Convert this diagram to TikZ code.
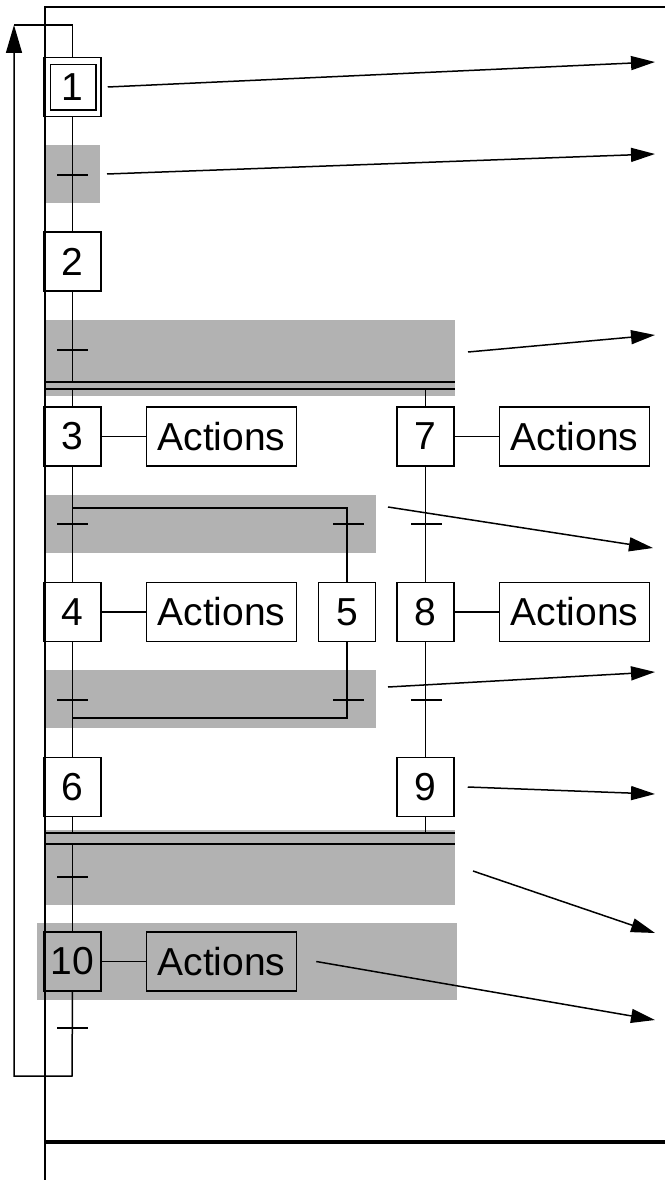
\documentclass[tikz,border=0pt]{standalone}
\usepackage{fontspec}
\setmainfont{Liberation Sans}
\usetikzlibrary{positioning,arrows.meta}
\begin{document}
\begin{tikzpicture}[x=1pt,y=-1pt,
    etape/.style={draw,line width=1.5pt,minimum width=57pt,minimum height=59pt,inner sep=0pt,font=\fontsize{39}{40}\selectfont},
    actions/.style={draw,line width=1.5pt,minimum width=150pt,minimum height=59pt,inner sep=0pt,font=\fontsize{39}{40}\selectfont},
    lien/.style={line width=1.5pt},
    zone/.style={fill=black!30},
    renvoi/.style={line width=1.5pt,-{Triangle[length=24pt,width=14pt]}},
    node distance=44pt]
    \useasboundingbox (0,0) rectangle (665,1180);
    % zones grisees
    \fill[zone] (44,145) rectangle (100,203);
    \fill[zone] (44,320) rectangle (455,396);
    \fill[zone] (44,495) rectangle (376,553);
    \fill[zone] (44,670) rectangle (376,728);
    \fill[zone] (44,830) rectangle (455,905);
    \fill[zone] (37,923) rectangle (457,1000);
    % cadre
    \draw[line width=2.5pt] (45,1180) -- (45,7) -- (665,7);
    \draw[line width=4pt] (45,1142) -- (665,1142);
    % etapes
    \node[etape] (s1) at (72.5,87) {1};
    \draw[lien] ([shift={(7,8)}]s1.north west) rectangle ([shift={(-6,-7)}]s1.south east);
    \node[etape] (s2) at (72.5,261.5) {2};
    \node[etape] (s3) at (72.5,436.5) {3};
    \node[etape] (s7) at (425.5,436.5) {7};
    \node[etape] (s4) at (72.5,612) {4};
    \node[etape] (s5) at (347,612) {5};
    \node[etape] (s8) at (425.5,612) {8};
    \node[etape] (s6) at (72.5,787) {6};
    \node[etape] (s9) at (425.5,787) {9};
    \node[etape] (s10) at (72.5,961.5) {10};
    \node[actions,right=of s3] (a3) {Actions};
    \node[actions,right=of s7] (a7) {Actions};
    \node[actions,right=of s4] (a4) {Actions};
    \node[actions,right=of s8] (a8) {Actions};
    \node[actions,right=of s10] (a10) {Actions};
    \foreach \s in {3,7,4,8,10}
        \draw[lien] (s\s.east) -- (a\s.west);
    % doubles traits
    \coordinate (d1h) at (44,382);
    \coordinate (d1b) at (44,389);
    \coordinate (d2h) at (44,833);
    \coordinate (d2b) at (44,844);
    \foreach \d in {d1h,d1b,d2h,d2b}
        \draw[lien] (\d) -- ++(411,0);
    % liaisons
    \coordinate (ou3) at (72,508);
    \coordinate (ou4) at (72,718);
    \draw[lien] (s1.south) -- (s2.north);
    \draw[lien] (s2.south) -- (s2.south |- d1h);
    \draw[lien] (s3.north |- d1b) -- (s3.north);
    \draw[lien] (s7.north |- d1b) -- (s7.north);
    \draw[lien] (s3.south) -- (s4.north);
    \draw[lien] (ou3) -| (s5.north);
    \draw[lien] (s5.south) |- (ou4);
    \draw[lien] (s4.south) -- (s6.north);
    \draw[lien] (s7.south) -- (s8.north);
    \draw[lien] (s8.south) -- (s9.north);
    \draw[lien] (s6.south) -- (s6.south |- d2h);
    \draw[lien] (s9.south) -- (s9.south |- d2h);
    \draw[lien] (s10.north |- d2b) -- (s10.north);
    % receptivites
    \foreach \x/\y in {72/175,72/350,72/524,348/524,426/524,72/700,348/700,426/700,72/877,72/1028}
        \draw[lien] (\x-15,\y) -- (\x+16,\y);
    % rebouclage
    \coordinate (bas) at (72,1076);
    \coordinate (gauche) at (14,1076);
    \coordinate (haut) at (14,25);
    \draw[lien,-{Triangle[length=28pt,width=16pt]}] (s10.south) -- (bas) -- (gauche) -- (haut);
    \draw[lien] (haut) -- (s1.north |- haut) -- (s1.north);
    % renvois
    \coordinate (c2) at (107,174);
    \coordinate (c3) at (468,352);
    \coordinate (c4) at (388,507);
    \coordinate (c5) at (388,687);
    \coordinate (c6) at (473,871);
    \coordinate (r1) at (655,62);
    \coordinate (r2) at (655,154);
    \coordinate (r3) at (655,335);
    \coordinate (r4) at (653,548);
    \coordinate (r5) at (655,672);
    \coordinate (r6) at (655,794);
    \coordinate (r7) at (655,933);
    \coordinate (r8) at (655,1020);
    \draw[renvoi] ([xshift=6pt]s1.east) -- (r1);
    \draw[renvoi] (c2) -- (r2);
    \draw[renvoi] (c3) -- (r3);
    \draw[renvoi] (c4) -- (r4);
    \draw[renvoi] (c5) -- (r5);
    \draw[renvoi] ([xshift=13pt]s9.east) -- (r6);
    \draw[renvoi] (c6) -- (r7);
    \draw[renvoi] ([xshift=19pt]a10.east) -- (r8);
\end{tikzpicture}
\end{document}
